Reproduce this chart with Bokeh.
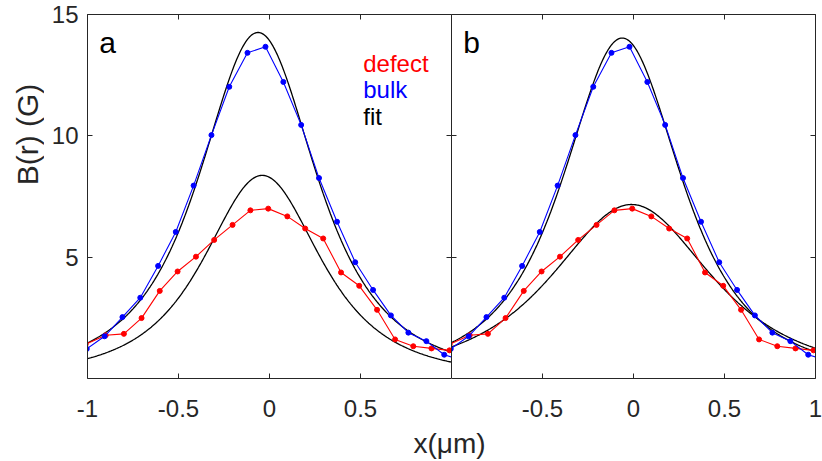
import numpy as np
from bokeh.plotting import figure
from bokeh.layouts import column, row
from bokeh.models import FixedTicker, CustomJSTickFormatter, LinearAxis, Label, Range1d
from bokeh.embed import file_html
from bokeh.resources import INLINE

# ---- data ----
bulk_x = [-1.004, -0.906, -0.808, -0.710, -0.612, -0.515, -0.417, -0.319, -0.221, -0.121,
          -0.022, 0.076, 0.174, 0.272, 0.371, 0.471, 0.569, 0.667, 0.763, 0.862, 0.960, 1.058]
bulk_y = [1.22, 1.74, 2.53, 3.33, 4.64, 6.04, 7.95, 10.03, 12.02, 13.42,
          13.67, 12.22, 10.45, 8.26, 6.46, 4.79, 3.65, 2.60, 1.89, 1.54, 0.98, 0.75]

defect_x = [-1.01, -0.90, -0.80, -0.703, -0.603, -0.505, -0.404, -0.304, -0.203, -0.105,
            -0.007, 0.098, 0.196, 0.295, 0.393, 0.493, 0.591, 0.690, 0.79, 0.89, 0.989]
defect_y = [1.41, 1.78, 1.84, 2.49, 3.61, 4.41, 5.02, 5.71, 6.33, 6.93,
            7.00, 6.68, 6.18, 5.77, 4.37, 3.82, 2.83, 1.61, 1.33, 1.24, 1.16]

# fit parameters: [amplitude (G), centre (um), width (um)]
fit_a_bulk = [14.26, -0.063, 0.497]
fit_a_defect = [8.37, -0.040, 0.498]
fit_b_bulk = [14.03, -0.062, 0.503]
fit_b_defect = [7.17, -0.011, 0.68]

x_ticks_a = [-1, -0.5, 0, 0.5]
x_ticks_b = [-0.5, 0, 0.5, 1]
x_ticks_all = [-1, -0.5, 0, 0.5, 1]
y_ticks = [5, 10, 15]

legend_names = ["defect", "bulk", "fit"]
legend_colors = ["#ff0000", "#0000ff", "#000000"]
legend_y = [13.0, 11.9, 10.8]

FONT = "Liberation Sans"
AX = "#262626"
RED = "#ff0000"
BLUE = "#0000ff"

YLAB_W = 44
FRAME_W = 364
FRAME_H = 364
TOP = 14
BOTTOM = 48
LEFT = 43
RIGHT_B = 7
XLAB_H = 35
PANEL_H = TOP + FRAME_H + BOTTOM


def fit_curve(params):
    amp, x0, w = params
    xs = np.linspace(-1.0, 1.0, 401)
    return xs, amp / (1.0 + ((xs - x0) / w) ** 2) ** 1.5


def add_axis(p, place, ticks, labels):
    ax = LinearAxis(ticker=FixedTicker(ticks=ticks),
                    formatter=CustomJSTickFormatter(code="return String(tick)"))
    ax.axis_line_color = AX
    ax.axis_line_width = 1
    ax.major_tick_line_color = AX
    ax.major_tick_in = 5
    ax.major_tick_out = 0
    ax.minor_tick_line_color = None
    if labels:
        ax.major_label_text_font = FONT
        ax.major_label_text_font_size = "24px"
        ax.major_label_text_color = AX
    else:
        ax.major_label_text_font_size = "0px"
        ax.major_label_text_color = None
        ax.major_label_standoff = 0
    p.add_layout(ax, place)
    return ax


def make_panel(fits, bottom_ticks, is_left, letter):
    width = (LEFT if is_left else 0) + FRAME_W + (0 if is_left else RIGHT_B)
    p = figure(width=width, height=PANEL_H,
               x_range=Range1d(-1, 1), y_range=Range1d(0, 15),
               x_axis_location=None, y_axis_location=None,
               output_backend="svg", toolbar_location=None,
               min_border_left=LEFT if is_left else 0,
               min_border_right=0 if is_left else RIGHT_B,
               min_border_top=TOP, min_border_bottom=BOTTOM)
    p.grid.visible = False
    p.outline_line_color = None
    p.background_fill_color = "white"
    p.border_fill_color = "white"

    bax = add_axis(p, "below", bottom_ticks, True)
    bax.major_label_standoff = 21
    add_axis(p, "above", x_ticks_all, False)
    lax = add_axis(p, "left", y_ticks, is_left)
    if is_left:
        lax.major_label_standoff = 9
    add_axis(p, "right", y_ticks, False)

    for params in fits:
        fx, fy = fit_curve(params)
        p.line(fx, fy, line_color="black", line_width=1.3)

    p.line(defect_x, defect_y, line_color=RED, line_width=1.1)
    p.scatter(defect_x, defect_y, size=5, fill_color=RED, line_color=RED)
    p.line(bulk_x, bulk_y, line_color=BLUE, line_width=1.1)
    p.scatter(bulk_x, bulk_y, size=5, fill_color=BLUE, line_color=BLUE)

    p.add_layout(Label(x=-0.935, y=13.85, text=letter, text_font=FONT,
                       text_font_size="30px", text_color="black",
                       text_baseline="alphabetic"))
    return p


pa = make_panel([fit_a_bulk, fit_a_defect], x_ticks_a, True, "a")
for name, col, yy in zip(legend_names, legend_colors, legend_y):
    pa.add_layout(Label(x=0.515, y=yy, text=name, text_font=FONT, text_font_size="24px",
                        text_color=col, text_baseline="alphabetic"))

pb = make_panel([fit_b_bulk, fit_b_defect], x_ticks_b, False, "b")


def label_figure(width, height):
    f = figure(width=width, height=height, x_range=Range1d(0, 1), y_range=Range1d(0, 1),
               x_axis_location=None, y_axis_location=None, min_border=0,
               output_backend="svg", toolbar_location=None)
    f.grid.visible = False
    f.outline_line_color = None
    f.background_fill_color = "white"
    f.border_fill_color = "white"
    return f


pyl = label_figure(YLAB_W, PANEL_H)
pyl.add_layout(Label(x=27, y=PANEL_H - 182, x_units="screen", y_units="screen",
                     text="B(r) (G)", angle=np.pi / 2, text_align="center",
                     text_baseline="middle", text_font=FONT, text_font_size="30px",
                     text_color=AX))

total_w = YLAB_W + LEFT + 2 * FRAME_W + RIGHT_B
pxl = label_figure(total_w, XLAB_H)
pxl.add_layout(Label(x=YLAB_W + LEFT + FRAME_W - 2, y=18, x_units="screen", y_units="screen",
                     text="x(μm)", text_align="center", text_baseline="middle",
                     text_font=FONT, text_font_size="28px", text_color=AX))

layout = column(row(pyl, pa, pb), pxl)
open("out.html", "w").write(file_html(layout, INLINE))
